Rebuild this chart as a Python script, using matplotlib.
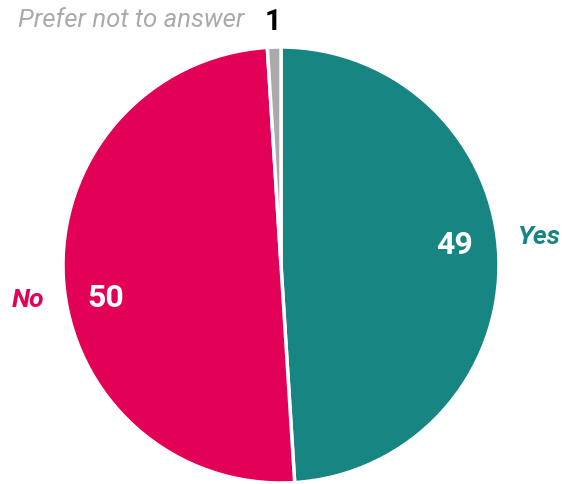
import matplotlib
matplotlib.use("Agg")
import matplotlib.pyplot as plt

# data
labels = ["Yes", "No", "Prefer not to answer"]
values = [49, 50, 1]
colors = ["#178582", "#e30057", "#aaaaaa"]

plt.rcParams['font.family'] = ['Roboto', 'DejaVu Sans']

fig = plt.figure(figsize=(5.62, 4.85), dpi=100)
ax = fig.add_axes([0, 0, 1, 1])

# pie in pixel-like coordinates
cx, cy, r = 281, 485 - 266, 218
ax.pie(values, colors=colors, startangle=90, counterclock=False,
       center=(cx, cy), radius=r, frame=True,
       wedgeprops=dict(edgecolor='white', linewidth=2.5))
ax.set_xlim(0, 562)
ax.set_ylim(0, 485)
ax.set_aspect('equal')
ax.axis('off')

# value labels inside / outside
ax.text(455, 485 - 245, str(values[0]), color='white', fontsize=23, fontweight='bold',
        ha='center', va='center')
ax.text(538, 485 - 237, labels[0], color=colors[0], fontsize=19, fontweight='bold',
        style='italic', ha='center', va='center')
ax.text(106, 485 - 298, str(values[1]), color='white', fontsize=23, fontweight='bold',
        ha='center', va='center')
ax.text(28, 485 - 300, labels[1], color=colors[1], fontsize=19, fontweight='bold',
        style='italic', ha='center', va='center')
ax.text(131, 485 - 20, labels[2], color=colors[2], fontsize=18.5,
        style='italic', ha='center', va='center')
ax.text(273, 485 - 22, str(values[2]), color='black', fontsize=21, fontweight='bold',
        ha='center', va='center')

fig.savefig("out.png", dpi=100)
